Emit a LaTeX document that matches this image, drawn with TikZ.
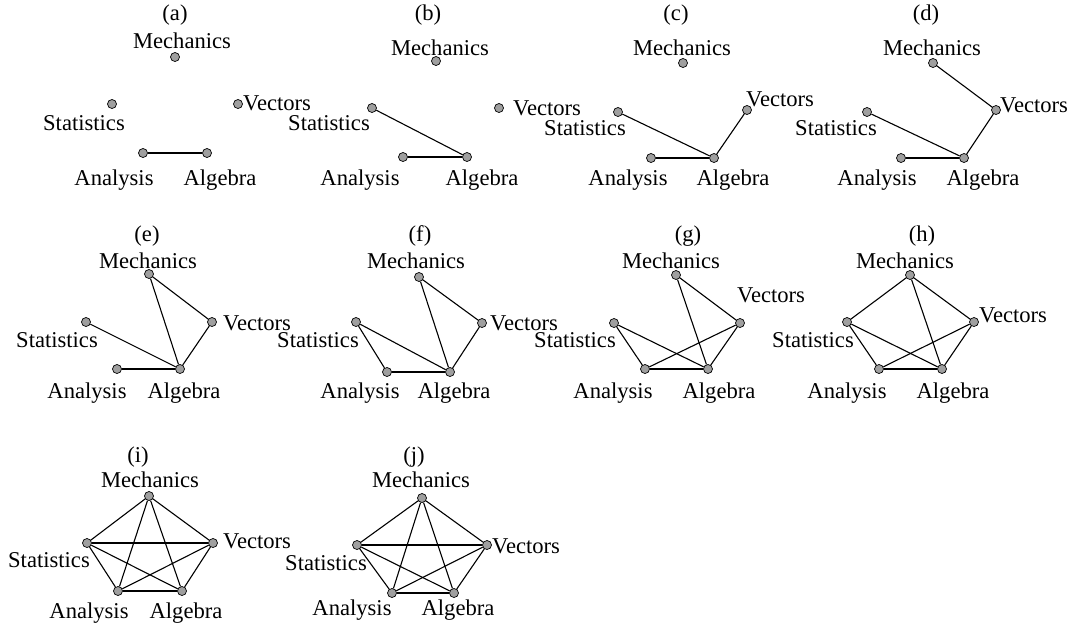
\documentclass[tikz,border=0pt]{standalone}
\usepackage{fontspec}
\setmainfont{Liberation Serif}
\begin{document}
\begin{tikzpicture}[
        x=1pt, y=-1pt,
        font=\fontsize{22.6}{26}\selectfont
    ]
    \tikzset{
        vtx/.style = {circle, draw=black, fill=gray!75, inner sep=0pt, minimum size=9pt, line width=0.7pt},
        lbl/.style = {inner sep=0pt, anchor=base},
        lbll/.style = {inner sep=0pt, anchor=base east},
        lblr/.style = {inner sep=0pt, anchor=base west},
        edgen/.style = {-, line width=1.1pt},
    }
        \useasboundingbox (0,0) rectangle (1079,627);
        % (a)
        \node[lbl] at (175,20) (a-t) {(a)};
        \node[vtx] at (175,57) (a-m) {};
        \node[vtx] at (112,104) (a-s) {};
        \node[vtx] at (238,104) (a-v) {};
        \node[vtx] at (143,153) (a-n) {};
        \node[vtx] at (207,153) (a-g) {};
        \node[lbl] at (182,48) (a-mt) {Mechanics};
        \node[lbll] at (125,130) (a-st) {Statistics};
        \node[lblr] at (243,110) (a-vt) {Vectors};
        \node[lbl] at (114,185) (a-nt) {Analysis};
        \node[lbl] at (220,185) (a-gt) {Algebra};
        \draw[edgen] (a-n) -- (a-g);
        % (b)
        \node[lbl] at (428,20) (b-t) {(b)};
        \node[vtx] at (436,61) (b-m) {};
        \node[vtx] at (372,108) (b-s) {};
        \node[vtx] at (499,108) (b-v) {};
        \node[vtx] at (403,157) (b-n) {};
        \node[vtx] at (467,157) (b-g) {};
        \node[lbl] at (440,55) (b-mt) {Mechanics};
        \node[lbll] at (370,130) (b-st) {Statistics};
        \node[lblr] at (513,115) (b-vt) {Vectors};
        \node[lbl] at (360,185) (b-nt) {Analysis};
        \node[lbl] at (482,185) (b-gt) {Algebra};
        \draw[edgen] (b-s) -- (b-g);
        \draw[edgen] (b-n) -- (b-g);
        % (c)
        \node[lbl] at (676,20) (c-t) {(c)};
        \node[vtx] at (683,63) (c-m) {};
        \node[vtx] at (618,112) (c-s) {};
        \node[vtx] at (747,110) (c-v) {};
        \node[vtx] at (651,158) (c-n) {};
        \node[vtx] at (714,158) (c-g) {};
        \node[lbl] at (682,55) (c-mt) {Mechanics};
        \node[lbll] at (626,135) (c-st) {Statistics};
        \node[lblr] at (746,106) (c-vt) {Vectors};
        \node[lbl] at (628,185) (c-nt) {Analysis};
        \node[lbl] at (733,185) (c-gt) {Algebra};
        \draw[edgen] (c-s) -- (c-g);
        \draw[edgen] (c-n) -- (c-g);
        \draw[edgen] (c-g) -- (c-v);
        % (d)
        \node[lbl] at (926,20) (d-t) {(d)};
        \node[vtx] at (933,63) (d-m) {};
        \node[vtx] at (867,112) (d-s) {};
        \node[vtx] at (996,110) (d-v) {};
        \node[vtx] at (901,158) (d-n) {};
        \node[vtx] at (964,158) (d-g) {};
        \node[lbl] at (932,55) (d-mt) {Mechanics};
        \node[lbll] at (877,135) (d-st) {Statistics};
        \node[lblr] at (1000,112) (d-vt) {Vectors};
        \node[lbl] at (877,185) (d-nt) {Analysis};
        \node[lbl] at (983,185) (d-gt) {Algebra};
        \draw[edgen] (d-m) -- (d-v);
        \draw[edgen] (d-v) -- (d-g);
        \draw[edgen] (d-s) -- (d-g);
        \draw[edgen] (d-n) -- (d-g);
        % (e)
        \node[lbl] at (147,241) (e-t) {(e)};
        \node[vtx] at (149,274) (e-m) {};
        \node[vtx] at (86,322) (e-s) {};
        \node[vtx] at (212,322) (e-v) {};
        \node[vtx] at (117,369) (e-n) {};
        \node[vtx] at (180,369) (e-g) {};
        \node[lbl] at (148,268) (e-mt) {Mechanics};
        \node[lbll] at (98,347) (e-st) {Statistics};
        \node[lblr] at (223,330) (e-vt) {Vectors};
        \node[lbl] at (87,398) (e-nt) {Analysis};
        \node[lbl] at (184,398) (e-gt) {Algebra};
        \draw[edgen] (e-m) -- (e-v);
        \draw[edgen] (e-m) -- (e-g);
        \draw[edgen] (e-v) -- (e-g);
        \draw[edgen] (e-s) -- (e-g);
        \draw[edgen] (e-n) -- (e-g);
        % (f)
        \node[lbl] at (420,241) (f-t) {(f)};
        \node[vtx] at (419,277) (f-m) {};
        \node[vtx] at (356,322) (f-s) {};
        \node[vtx] at (482,323) (f-v) {};
        \node[vtx] at (387,372) (f-n) {};
        \node[vtx] at (450,372) (f-g) {};
        \node[lbl] at (416,268) (f-mt) {Mechanics};
        \node[lbll] at (359,347) (f-st) {Statistics};
        \node[lblr] at (490,330) (f-vt) {Vectors};
        \node[lbl] at (360,398) (f-nt) {Analysis};
        \node[lbl] at (454,398) (f-gt) {Algebra};
        \draw[edgen] (f-m) -- (f-v);
        \draw[edgen] (f-m) -- (f-g);
        \draw[edgen] (f-v) -- (f-g);
        \draw[edgen] (f-s) -- (f-g);
        \draw[edgen] (f-s) -- (f-n);
        \draw[edgen] (f-n) -- (f-g);
        % (g)
        \node[lbl] at (688,241) (g-t) {(g)};
        \node[vtx] at (676,275) (g-m) {};
        \node[vtx] at (614,323) (g-s) {};
        \node[vtx] at (740,323) (g-v) {};
        \node[vtx] at (645,369) (g-n) {};
        \node[vtx] at (708,369) (g-g) {};
        \node[lbl] at (671,268) (g-mt) {Mechanics};
        \node[lbll] at (616,347) (g-st) {Statistics};
        \node[lblr] at (737,302) (g-vt) {Vectors};
        \node[lbl] at (613,398) (g-nt) {Analysis};
        \node[lbl] at (719,398) (g-gt) {Algebra};
        \draw[edgen] (g-m) -- (g-v);
        \draw[edgen] (g-m) -- (g-g);
        \draw[edgen] (g-v) -- (g-g);
        \draw[edgen] (g-v) -- (g-n);
        \draw[edgen] (g-s) -- (g-g);
        \draw[edgen] (g-s) -- (g-n);
        \draw[edgen] (g-n) -- (g-g);
        % (h)
        \node[lbl] at (922,241) (h-t) {(h)};
        \node[vtx] at (910,275) (h-m) {};
        \node[vtx] at (847,322) (h-s) {};
        \node[vtx] at (974,322) (h-v) {};
        \node[vtx] at (879,369) (h-n) {};
        \node[vtx] at (942,369) (h-g) {};
        \node[lbl] at (905,268) (h-mt) {Mechanics};
        \node[lbll] at (854,347) (h-st) {Statistics};
        \node[lblr] at (979,322) (h-vt) {Vectors};
        \node[lbl] at (847,398) (h-nt) {Analysis};
        \node[lbl] at (953,398) (h-gt) {Algebra};
        \draw[edgen] (h-m) edge (h-s) edge (h-v) edge (h-g);
        \draw[edgen] (h-s) edge (h-n) edge (h-g);
        \draw[edgen] (h-v) edge (h-n) edge (h-g);
        \draw[edgen] (h-n) -- (h-g);
        % (i)
        \node[lbl] at (138,462) (i-t) {(i)};
        \node[vtx] at (149,496) (i-m) {};
        \node[vtx] at (87,543) (i-s) {};
        \node[vtx] at (213,543) (i-v) {};
        \node[vtx] at (118,591) (i-n) {};
        \node[vtx] at (182,591) (i-g) {};
        \node[lbl] at (150,487) (i-mt) {Mechanics};
        \node[lbll] at (90,567) (i-st) {Statistics};
        \node[lblr] at (223,548) (i-vt) {Vectors};
        \node[lbl] at (89,618) (i-nt) {Analysis};
        \node[lbl] at (186,618) (i-gt) {Algebra};
        \draw[edgen] (i-m) edge (i-s) edge (i-v) edge (i-n) edge (i-g);
        \draw[edgen] (i-s) edge (i-v) edge (i-n) edge (i-g);
        \draw[edgen] (i-v) edge (i-n) edge (i-g);
        \draw[edgen] (i-n) -- (i-g);
        % (j)
        \node[lbl] at (414,462) (j-t) {(j)};
        \node[vtx] at (422,498) (j-m) {};
        \node[vtx] at (357,545) (j-s) {};
        \node[vtx] at (487,545) (j-v) {};
        \node[vtx] at (392,593) (j-n) {};
        \node[vtx] at (454,593) (j-g) {};
        \node[lbl] at (421,487) (j-mt) {Mechanics};
        \node[lbll] at (367,570) (j-st) {Statistics};
        \node[lblr] at (492,553) (j-vt) {Vectors};
        \node[lbl] at (352,615) (j-nt) {Analysis};
        \node[lbl] at (458,615) (j-gt) {Algebra};
        \draw[edgen] (j-m) edge (j-s) edge (j-v) edge (j-n) edge (j-g);
        \draw[edgen] (j-s) edge (j-v) edge (j-n) edge (j-g);
        \draw[edgen] (j-v) edge (j-n) edge (j-g);
        \draw[edgen] (j-n) -- (j-g);
    \end{tikzpicture}
\end{document}
